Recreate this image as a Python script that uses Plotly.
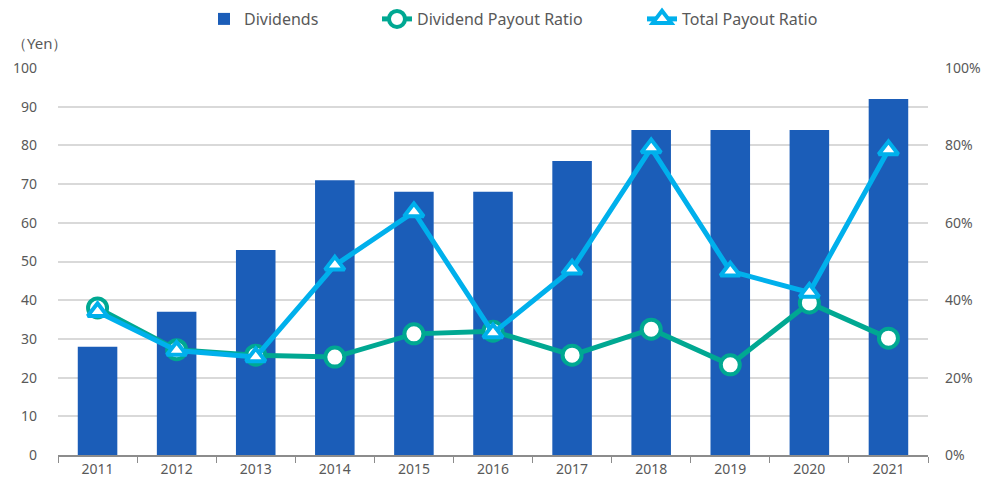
import plotly.graph_objects as go

years = ["2011", "2012", "2013", "2014", "2015", "2016", "2017", "2018", "2019", "2020", "2021"]
dividends = [28, 37, 53, 71, 68, 68, 76, 84, 84, 84, 92]
dividend_payout = [0.38, 0.272, 0.258, 0.253, 0.313, 0.320, 0.258, 0.325, 0.233, 0.393, 0.302]
total_payout = [0.37, 0.27, 0.253, 0.49, 0.628, 0.315, 0.48, 0.793, 0.475, 0.42, 0.788]

BAR = "#1B5DB8"
GREEN = "#00A892"
BLUE = "#00B0EC"
TXT = "#595959"
FONT = "Noto Sans"

L, R, T, B = 58, 58, 68, 31
W, H = 986, 486
PW = W - L - R


def px_x(p):
    return (p - L) / PW


fig = go.Figure()
fig.add_trace(go.Bar(x=years, y=dividends, name="Dividends", marker=dict(color=BAR, line=dict(width=0)),
                     width=0.5, yaxis="y", legend="legend"))
fig.add_trace(go.Scatter(x=years, y=dividend_payout, name="Dividend Payout Ratio", mode="lines+markers",
                         line=dict(color=GREEN, width=5),
                         marker=dict(symbol="circle", size=19, color="white", line=dict(color=GREEN, width=4)),
                         yaxis="y2", legend="legend2"))
fig.add_trace(go.Scatter(x=years, y=total_payout, name="Total Payout Ratio", mode="lines+markers",
                         line=dict(color=BLUE, width=5),
                         marker=dict(symbol="triangle-up", size=17, color="white", line=dict(color=BLUE, width=4)),
                         yaxis="y2", legend="legend3"))

leg_common = dict(orientation="h", yref="container", y=1 - 19 / H, yanchor="middle", xanchor="left",
                  font=dict(size=16, color=TXT), bgcolor="rgba(0,0,0,0)")

fig.update_layout(
    width=W, height=H,
    margin=dict(l=L, r=R, t=T, b=B, autoexpand=False),
    plot_bgcolor="white", paper_bgcolor="white",
    font=dict(family=FONT, size=14, color=TXT),
    showlegend=True,
    legend=dict(x=px_x(204), **leg_common),
    legend2=dict(x=px_x(377), **leg_common),
    legend3=dict(x=px_x(642), **leg_common),
    xaxis=dict(type="category", range=[-0.5, len(years) - 0.5], showgrid=False, showline=True,
               linecolor="#8c8c8c", linewidth=1.5,
               ticks="outside", tickson="boundaries", ticklen=6, tickcolor="#8c8c8c",
               tickfont=dict(size=14, color=TXT), automargin=False),
    yaxis=dict(range=[0, 100], dtick=10, showgrid=True, gridcolor="#d9d9d9", gridwidth=1.5,
               zeroline=False, showline=False, ticks="", ticklabelstandoff=20,
               tickfont=dict(size=14, color=TXT), automargin=False),
    yaxis2=dict(range=[0, 1], dtick=0.2, tickformat=".0%", overlaying="y", side="right",
                showgrid=False, zeroline=False, showline=False, ticks="", ticklabelstandoff=16,
                tickfont=dict(size=14, color=TXT), automargin=False),
    annotations=[dict(text="（Yen）", xref="paper", yref="paper", x=px_x(39), y=(H - B - 43) / (H - T - B),
                      xanchor="center", yanchor="middle", showarrow=False, font=dict(size=15, color=TXT))],
)

fig.write_html("out.html", config={"displayModeBar": False},
               post_script="document.body.style.margin='0';document.body.style.overflow='hidden';")
